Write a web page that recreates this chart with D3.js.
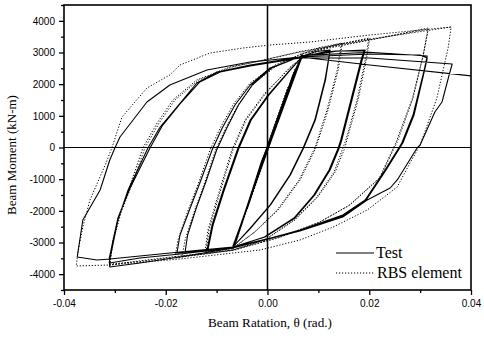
<!DOCTYPE html>
<html><head><meta charset="utf-8">
<script src="https://cdn.jsdelivr.net/npm/d3@7"></script>
<style>
body{margin:0;background:#fff}
svg{display:block}
</style></head><body>
<svg id="chart" width="484" height="338"></svg>
<script>
// Axis ticks
const thetaTicks = [-0.04, -0.02, 0, 0.02, 0.04];
const thetaMinor = [-0.03, -0.01, 0.01, 0.03];
const momentTicks = [-4000, -3000, -2000, -1000, 0, 1000, 2000, 3000, 4000];
const momentMinor = [-4500, -3500, -2500, -1500, -500, 500, 1500, 2500, 3500, 4500];

// Legend entries
const seriesNames = ["Test", "RBS element"];

// Measured hysteresis: [rotation (rad), moment (kN-m)]
const testCurve = [
  [0,0],
  [0.0040,1850],[0.0002,150],[-0.0040,-1900],[-0.0002,-120],
  [0.0041,1880],[0.0003,170],[-0.0041,-1930],[-0.0001,-100],
  [0.0055,2450],[0.0004,200],[-0.0055,-2550],[-0.0003,-200],
  [0.0056,2480],[0.0005,230],[-0.0056,-2600],[-0.0004,-230],
  [0.0057,2500],[0.0006,260],[-0.0057,-2640],[-0.0005,-260],
  [0.0050,2300],[0.0068,2880],[0.0063,2700],[0.0008,300],[-0.0040,-1900],[-0.0068,-3140],[-0.0063,-2950],[-0.0010,-400],
  [0.0040,1700],[0.0069,2900],[0.0064,2700],[0.0008,250],[-0.0068,-3120],[-0.0062,-2950],[-0.0012,-450],
  [0.0040,1650],[0.0068,2880],[0.0095,3030],[0.0123,3079],
  [0.0113,2132],[0.0093,868],[0.0070,-16],[0.0044,-868],[0.0005,-1816],[-0.0034,-2542],[-0.0068,-3142],[-0.0119,-3237],
  [-0.0109,-2447],[-0.0087,-1342],[-0.0058,-16],[-0.0034,868],[0.0001,1658],[0.0044,2447],[0.0068,2858],[0.0123,3060],
  [0.0114,2132],[0.0094,868],[0.0071,-16],[0.0045,-868],[0.0006,-1816],[-0.0034,-2560],[-0.0068,-3142],[-0.0117,-3220],
  [-0.0107,-2447],[-0.0085,-1342],[-0.0056,-16],[-0.0032,868],[0.0003,1658],[0.0045,2447],[0.0068,2870],
  [0.0135,3040],[0.0192,3079],
  [0.0186,2763],[0.0166,1500],[0.0146,237],[0.0141,-16],[0.0123,-711],[0.0093,-1500],[0.0054,-2226],[-0.0005,-2826],[-0.0068,-3142],[-0.0113,-3237],[-0.0178,-3332],
  [-0.0172,-2763],[-0.0152,-1911],[-0.0133,-1121],[-0.0109,-79],[-0.0089,616],[-0.0064,1342],[-0.0034,1974],[0.0005,2510],[0.0068,2890],[0.0133,3047],[0.0190,3060],
  [0.0184,2763],[0.0164,1500],[0.0144,237],[0.0139,-16],[0.0121,-711],[0.0091,-1500],[0.0052,-2226],[-0.0006,-2826],[-0.0068,-3150],[-0.0113,-3250],[-0.0162,-3300],
  [-0.0157,-2763],[-0.0140,-1911],[-0.0122,-1121],[-0.0100,-79],[-0.0080,616],[-0.0057,1342],[-0.0030,1974],[0.0008,2510],[0.0068,2900],
  [0.0200,3010],[0.0314,2890],
  [0.0308,2447],[0.0286,1026],[0.0264,142],[0.0258,-16],[0.0231,-711],[0.0192,-1658],[0.0148,-2132],[0.0064,-2605],[-0.0015,-2953],[-0.0068,-3174],[-0.0172,-3458],[-0.0251,-3648],[-0.0310,-3774],
  [-0.0311,-3616],[-0.0294,-2290],[-0.0274,-1342],[-0.0235,-16],[-0.0211,647],[-0.0178,1279],[-0.0139,2037],[-0.0099,2384],[-0.0034,2605],[0.0064,2858],[0.0201,2953],[0.0300,2921],[0.0314,2826],
  [0.0308,2384],[0.0288,1026],[0.0266,142],[0.0233,-711],[0.0194,-1658],[0.0148,-2163],[0.0064,-2637],[-0.0068,-3174],[-0.0172,-3363],[-0.0251,-3490],[-0.0310,-3648],
  [-0.0311,-3490],[-0.0294,-2226],[-0.0270,-1279],[-0.0231,-16],[-0.0207,679],[-0.0172,1374],[-0.0133,2069],[-0.0093,2384],[-0.0034,2574],[0.0064,2826],[0.0201,2826],[0.0363,2637],
  [0.0357,2290],[0.0343,1437],[0.0329,1121],[0.0300,79],[0.0294,-16],[0.0255,-1026],[0.0241,-1279],[0.0196,-1658],[0.0148,-2195],[0.0064,-2637],[-0.0068,-3142],[-0.0172,-3300],[-0.0310,-3521],[-0.0335,-3553],[-0.0374,-3458],
  [-0.0363,-2290],[-0.0329,-1342],[-0.0310,-395],[-0.0300,-16],[-0.0290,332],[-0.0237,1437],[-0.0192,1974],[-0.0119,2447],[-0.0034,2700],[0.0064,2858],[0.0201,2605],[0.0402,2258],[0.0420,2215]
];

// RBS element model response: [rotation (rad), moment (kN-m)]
const rbsCurve = [
  [0,0],
  [0.0040,1900],[0.0003,200],[-0.0040,-1950],[-0.0003,-150],
  [0.0055,2500],[0.0005,250],[-0.0055,-2600],[-0.0004,-250],
  [0.0068,2950],[0.0062,2750],[0.0010,350],[-0.0068,-3200],[-0.0062,-3000],[-0.0010,-450],
  [0.0068,2960],[0.0062,2750],[0.0009,300],[-0.0068,-3220],[-0.0062,-3000],[-0.0012,-480],
  [0.0040,1750],[0.0068,2950],[0.0100,3150],[0.0147,3300],
  [0.0139,2447],[0.0119,1184],[0.0095,-16],[0.0064,-1026],[0.0021,-1974],[-0.0025,-2669],[-0.0068,-3174],[-0.0123,-3300],
  [-0.0117,-2605],[-0.0097,-1500],[-0.0070,-79],[-0.0044,868],[-0.0005,1721],[0.0044,2510],[0.0068,2826],[0.0100,3100],[0.0145,3280],
  [0.0137,2447],[0.0117,1184],[0.0093,-16],[0.0062,-1026],[0.0019,-1974],[-0.0026,-2680],[-0.0068,-3190],[-0.0121,-3310],
  [-0.0115,-2605],[-0.0095,-1500],[-0.0068,-79],[-0.0042,868],[-0.0003,1721],[0.0044,2530],[0.0068,2850],
  [0.0133,3237],[0.0201,3458],
  [0.0196,2921],[0.0178,1500],[0.0156,237],[0.0152,-16],[0.0133,-774],[0.0099,-1563],[0.0054,-2290],[-0.0005,-2921],[-0.0068,-3237],[-0.0120,-3350],[-0.0182,-3490],
  [-0.0176,-2921],[-0.0156,-1974],[-0.0137,-1184],[-0.0113,-79],[-0.0093,616],[-0.0068,1342],[-0.0034,2037],[0.0015,2605],[0.0068,2953],[0.0133,3237],[0.0199,3440],
  [0.0194,2921],[0.0176,1500],[0.0154,237],[0.0131,-774],[0.0097,-1563],[0.0052,-2290],[-0.0006,-2921],[-0.0068,-3240],[-0.0120,-3360],[-0.0168,-3440],
  [-0.0162,-2921],[-0.0143,-1974],[-0.0125,-1184],[-0.0102,-79],[-0.0082,616],[-0.0058,1342],[-0.0026,2037],[0.0020,2605],[0.0068,2970],
  [0.0201,3395],[0.0316,3774],
  [0.0306,2921],[0.0286,1563],[0.0255,174],[0.0249,-16],[0.0221,-963],[0.0162,-1816],[0.0103,-2353],[0.0025,-2826],[-0.0068,-3237],[-0.0172,-3426],[-0.0251,-3580],[-0.0310,-3711],
  [-0.0304,-2921],[-0.0290,-2069],[-0.0270,-1184],[-0.0245,-16],[-0.0217,774],[-0.0186,1500],[-0.0139,2132],[-0.0074,2542],[-0.0034,2668],[0.0064,3016],[0.0201,3395],[0.0316,3740],
  [0.0306,2900],[0.0285,1563],[0.0253,174],[0.0220,-963],[0.0160,-1830],[0.0101,-2370],[0.0024,-2840],[-0.0068,-3250],[-0.0172,-3440],[-0.0251,-3600],[-0.0310,-3680],
  [-0.0303,-2921],[-0.0288,-2069],[-0.0267,-1184],[-0.0241,-16],[-0.0213,774],[-0.0182,1500],[-0.0135,2132],[-0.0070,2542],[-0.0030,2680],[0.0064,3030],[0.0201,3420],[0.0361,3805],
  [0.0355,3142],[0.0333,1563],[0.0300,79],[0.0280,-489],[0.0255,-1247],[0.0196,-1974],[0.0129,-2511],[0.0064,-2921],[-0.0015,-3237],[-0.0068,-3332],[-0.0172,-3521],[-0.0310,-3711],[-0.0376,-3742],
  [-0.0372,-3237],[-0.0363,-2511],[-0.0349,-1658],[-0.0319,-553],[-0.0306,-16],[-0.0286,963],[-0.0237,1879],[-0.0192,2290],[-0.0172,2605],[-0.0113,2984],[-0.0048,3142],[0.0005,3237],[0.0084,3332],[0.0201,3553],[0.0361,3805]
];

const svg = d3.select("#chart");
const plotLeft = 64, plotRight = 471, plotTop = 5, plotBottom = 290;
const x = d3.scaleLinear().domain([-0.04, 0.04]).range([plotLeft, plotRight]);
const y = d3.scaleLinear().domain([-4500, 4500]).range([plotBottom, plotTop]);

svg.append("defs").append("clipPath").attr("id", "plotClip")
  .append("rect").attr("x", plotLeft).attr("y", plotTop)
  .attr("width", plotRight - plotLeft).attr("height", plotBottom - plotTop);

// zero reference lines
svg.append("line").attr("x1", plotLeft).attr("x2", plotRight).attr("y1", y(0)).attr("y2", y(0))
  .attr("stroke", "#000").attr("stroke-width", 1.2);
svg.append("line").attr("x1", x(0)).attr("x2", x(0)).attr("y1", plotTop).attr("y2", plotBottom)
  .attr("stroke", "#000").attr("stroke-width", 1.5);

const line = d3.line().x(d => x(d[0])).y(d => y(d[1]));
const plot = svg.append("g").attr("clip-path", "url(#plotClip)");

plot.append("path").datum(rbsCurve).attr("d", line)
  .attr("fill", "none").attr("stroke", "#000").attr("stroke-width", 1)
  .attr("stroke-dasharray", "1.2,1.8");
plot.append("path").datum(testCurve).attr("d", line)
  .attr("fill", "none").attr("stroke", "#000").attr("stroke-width", 1.1)
  .attr("stroke-linejoin", "round");

// frame
svg.append("rect").attr("x", plotLeft).attr("y", plotTop)
  .attr("width", plotRight - plotLeft).attr("height", plotBottom - plotTop)
  .attr("fill", "none").attr("stroke", "#000").attr("stroke-width", 1.6);

// axes
const tickFont = "'Liberation Sans', Arial, sans-serif";
const yAxis = svg.append("g").attr("transform", `translate(${plotLeft},0)`)
  .call(d3.axisLeft(y).tickValues(momentTicks).tickSize(5).tickPadding(4).tickSizeOuter(0));
const yMinor = svg.append("g").attr("transform", `translate(${plotLeft},0)`)
  .call(d3.axisLeft(y).tickValues(momentMinor).tickSize(3).tickSizeOuter(0).tickFormat(""));
const xAxis = svg.append("g").attr("transform", `translate(0,${plotBottom})`)
  .call(d3.axisBottom(x).tickValues(thetaTicks).tickSize(5).tickPadding(5).tickSizeOuter(0));
const xMinor = svg.append("g").attr("transform", `translate(0,${plotBottom})`)
  .call(d3.axisBottom(x).tickValues(thetaMinor).tickSize(3).tickSizeOuter(0).tickFormat(""));

[yAxis, yMinor, xAxis, xMinor].forEach(g => {
  g.select(".domain").remove();
  g.selectAll(".tick line").attr("stroke", "#000").attr("stroke-width", 1.3);
  g.selectAll("text").attr("font-family", tickFont).attr("font-size", 10).attr("fill", "#000");
});
xAxis.selectAll("text").text(d => (d < 0 ? "-" : "") + Math.abs(d).toFixed(2));
yAxis.selectAll("text").text(d => String(d));

// axis titles
const titleFont = "'Liberation Serif', 'Times New Roman', serif";
svg.append("text").attr("x", 270).attr("y", 327).attr("text-anchor", "middle")
  .attr("font-family", titleFont).attr("font-size", 13.2).text("Beam Ratation, θ (rad.)");
svg.append("text").attr("transform", "translate(16,155) rotate(-90)").attr("text-anchor", "middle")
  .attr("font-family", titleFont).attr("font-size", 13).text("Beam Moment (kN-m)");

// legend
const legend = svg.append("g");
legend.append("line").attr("x1", 336).attr("x2", 374).attr("y1", 253).attr("y2", 253)
  .attr("stroke", "#000").attr("stroke-width", 1.1);
legend.append("text").attr("x", 376).attr("y", 258).attr("font-family", titleFont)
  .attr("font-size", 16).text(seriesNames[0]);
legend.append("line").attr("x1", 336).attr("x2", 374).attr("y1", 273).attr("y2", 273)
  .attr("stroke", "#000").attr("stroke-width", 1).attr("stroke-dasharray", "1.2,1.8");
legend.append("text").attr("x", 377).attr("y", 278).attr("font-family", titleFont)
  .attr("font-size", 16).text(seriesNames[1]);
</script>
</body></html>
